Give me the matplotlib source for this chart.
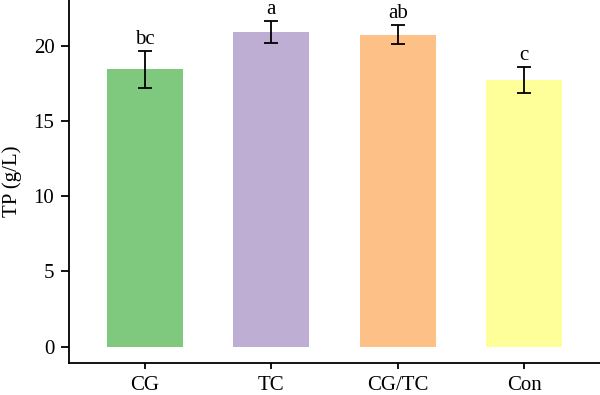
import matplotlib.pyplot as plt

groups = ['CG', 'TC', 'CG/TC', 'Con']
means = [18.45, 20.95, 20.77, 17.75]
errors = [1.23, 0.74, 0.65, 0.85]
letters = ['bc', 'a', 'ab', 'c']
colors = ['#7fc97f', '#beaed4', '#fdc086', '#ffff99']

plt.rcParams.update({
    'font.family': ['Liberation Serif', 'DejaVu Serif'],
    'font.size': 15,
})

fig = plt.figure(figsize=(6, 3.95), dpi=100)
ax = fig.add_axes([0.115, 0.082, 0.885, 0.918])

x = list(range(len(groups)))
ax.bar(x, means, width=0.6, color=colors)
ax.errorbar(x, means, yerr=errors, fmt='none', ecolor='black',
            elinewidth=1.3, capsize=5, capthick=1.3)

# significance letters just above the error bars
for xi, m, e, lab in zip(x, means, errors, letters):
    ax.text(xi, m + e + 0.45, lab, ha='center', va='baseline', fontsize=15)

ax.set_xlim(-0.6, 3.6)
ax.set_ylim(-1.07, 23.07)
ax.set_yticks([0, 5, 10, 15, 20])
ax.set_xticks(x)
ax.set_xticklabels(groups)
ax.set_ylabel('TP (g/L)', labelpad=8)

ax.spines['top'].set_visible(False)
ax.spines['right'].set_visible(False)
for s in ['left', 'bottom']:
    ax.spines[s].set_linewidth(1.3)
ax.tick_params(axis='y', width=1.3, length=5.5, pad=5)
ax.tick_params(axis='x', width=1.3, length=4, pad=6)

plt.savefig('out.png', dpi=100)
